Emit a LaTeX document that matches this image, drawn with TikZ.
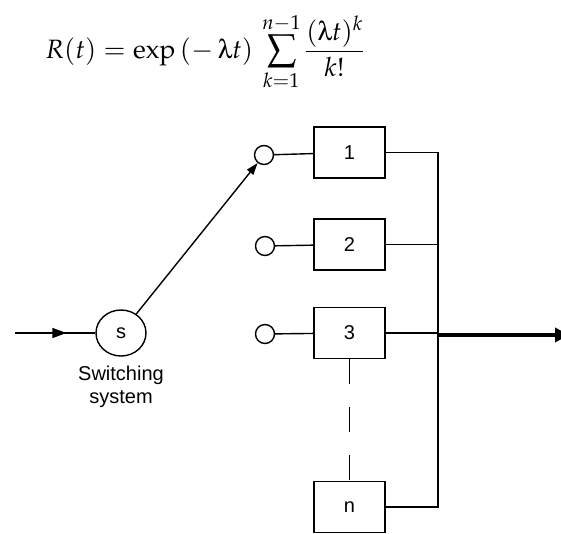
\documentclass[tikz,border=0pt]{standalone}
\usepackage{mathpazo}
\usepackage[Symbol]{upgreek}
\usepackage{fontspec}
\newfontfamily\labelfont{Liberation Sans}
\usetikzlibrary{shapes.geometric,arrows.meta,decorations.markings}
\tikzset{
  wire/.style={line width=1.4pt},
  unit/.style={draw,line width=1.4pt,minimum width=71pt,minimum height=51pt,inner sep=0pt,font=\labelfont\fontsize{20}{24}\selectfont},
  term/.style={draw,circle,line width=1.4pt,minimum size=19pt,inner sep=0pt},
  switch/.style={draw,ellipse,line width=1.4pt,minimum width=50pt,minimum height=46pt,inner sep=0pt,font=\labelfont\fontsize{20}{24}\selectfont},
  lbl/.style={align=center,inner sep=0pt,font=\labelfont\fontsize{20}{23}\selectfont},
}
\begin{document}
\begin{tikzpicture}[x=1pt,y=-1pt]
\useasboundingbox (0,0) rectangle (561,533);
\node[anchor=base west,inner sep=0pt,font=\fontsize{26.5}{32}\selectfont] (formula) at (45,58)
  {$\displaystyle R(t) = \exp\,(-\,\uplambda t)\,\sum_{k=1}^{n-1}\frac{(\uplambda t)^k}{k!}$};
\node[switch] (s) at (121,333) {s};
\node[lbl,anchor=north] (slabel) at (121,366) {Switching\\system};
\coordinate (in) at (15,333);
\draw[wire,postaction={decorate},decoration={markings,mark=at position 0.64 with {\arrow{Triangle[length=14pt,width=10pt]}}}] (in) -- (s);
\node[term] (c1) at (264,155) {};
\node[term] (c2) at (265,246) {};
\node[term] (c3) at (265,334) {};
\node[unit] (b1) at (349.5,152.5) {1};
\node[unit] (b2) at (349.5,244.5) {2};
\node[unit] (b3) at (349.5,333) {3};
\node[unit] (bn) at (349.5,507) {n};
\draw[wire,-{Triangle[length=12pt,width=8pt]}] (s) -- (c1);
\draw[wire] (c1) -- (b1);
\draw[wire] (c2) -- (b2);
\draw[wire] (c3) -- (b3);
\coordinate (bustop) at (438,152.5);
\coordinate (busbot) at (438,507);
\coordinate (busout) at (438,335);
\coordinate (out) at (569,335);
\draw[wire] (b1.east) -- (bustop) -- (busbot) -- (bn.east);
\draw[wire] (b2.east) -- (b2.east -| bustop);
\draw[wire] (b3.east) -- (b3.east -| bustop);
\draw[line width=4pt,-{Triangle[length=14pt,width=14pt]}] (busout) -- (out);
\draw[line width=1.5pt,dash pattern=on 25pt off 23pt] (b3.south) -- (bn.north);
\end{tikzpicture}
\end{document}
